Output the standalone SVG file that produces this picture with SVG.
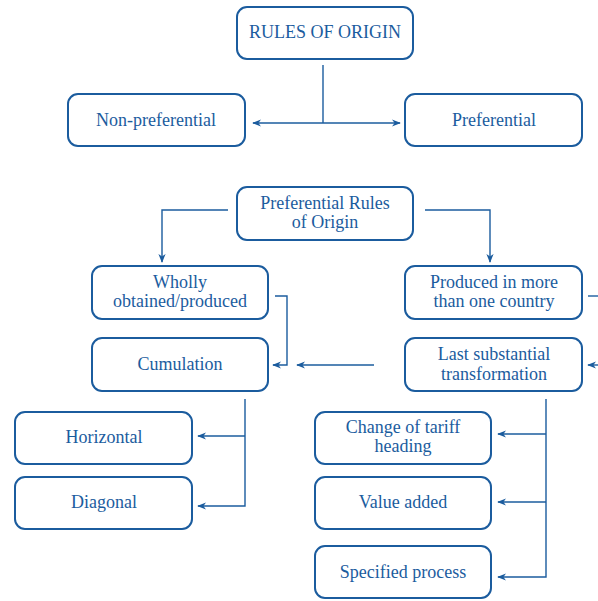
<svg xmlns="http://www.w3.org/2000/svg" width="598" height="601" viewBox="0 0 598 601">
<style>
.box{fill:#fff;stroke:#1b5c9e;stroke-width:2}
text{font-family:'Liberation Serif','DejaVu Serif',serif;font-size:18px;fill:#1b5c9e;text-anchor:middle}
.c{fill:none;stroke:#1b5c9e;stroke-width:1.4}
</style>
<defs>
<marker id="ah" viewBox="0 0 10 10" refX="9" refY="5" markerWidth="9" markerHeight="9" markerUnits="userSpaceOnUse" orient="auto-start-reverse">
<path d="M0,1 L10,5 L0,9 L3,5 Z" fill="#1b5c9e"/>
</marker>
</defs>
<rect width="598" height="601" fill="#fff"/>
<g id="connectors">
<path class="c" d="M323,65 V123"/>
<path class="c" d="M253,123 H400" marker-start="url(#ah)" marker-end="url(#ah)"/>
<path class="c" d="M228,210 H162 V262" marker-end="url(#ah)"/>
<path class="c" d="M425,210 H490 V262" marker-end="url(#ah)"/>
<path class="c" d="M275,296 H287 V365 H273" marker-end="url(#ah)"/>
<path class="c" d="M374,365 H297" marker-end="url(#ah)"/>
<path class="c" d="M588,296 H598"/>
<path class="c" d="M600,365 H588" marker-end="url(#ah)"/>
<path class="c" d="M245,399 V506 H198" marker-end="url(#ah)"/>
<path class="c" d="M245,436 H198" marker-end="url(#ah)"/>
<path class="c" d="M546,399 V577 H498" marker-end="url(#ah)"/>
<path class="c" d="M546,434 H498" marker-end="url(#ah)"/>
<path class="c" d="M546,502 H498" marker-end="url(#ah)"/>
</g>
<g id="rules-of-origin"><rect class="box" x="237" y="7" width="176" height="52" rx="10"/><text x="325" y="38">RULES OF ORIGIN</text></g>
<g id="non-preferential"><rect class="box" x="68" y="94" width="177" height="52" rx="10"/><text x="156" y="126">Non-preferential</text></g>
<g id="preferential"><rect class="box" x="405" y="94" width="177" height="52" rx="10"/><text x="494" y="126">Preferential</text></g>
<g id="preferential-rules"><rect class="box" x="237" y="187" width="176" height="53" rx="10"/><text x="325" y="209">Preferential Rules</text><text x="325" y="228">of Origin</text></g>
<g id="wholly"><rect class="box" x="92" y="266" width="176" height="53" rx="10"/><text x="180" y="288">Wholly</text><text x="180" y="307">obtained/produced</text></g>
<g id="produced"><rect class="box" x="405" y="266" width="177" height="53" rx="10"/><text x="494" y="288">Produced in more</text><text x="494" y="307">than one country</text></g>
<g id="cumulation"><rect class="box" x="92" y="338" width="176" height="53" rx="10"/><text x="180" y="370">Cumulation</text></g>
<g id="last-substantial"><rect class="box" x="405" y="338" width="177" height="53" rx="10"/><text x="494" y="360">Last substantial</text><text x="494" y="380">transformation</text></g>
<g id="horizontal"><rect class="box" x="15" y="412" width="177" height="52" rx="10"/><text x="104" y="443">Horizontal</text></g>
<g id="diagonal"><rect class="box" x="15" y="477" width="177" height="52" rx="10"/><text x="104" y="508">Diagonal</text></g>
<g id="change-tariff"><rect class="box" x="315" y="412" width="176" height="52" rx="10"/><text x="403" y="433">Change of tariff</text><text x="403" y="452">heading</text></g>
<g id="value-added"><rect class="box" x="315" y="477" width="176" height="52" rx="10"/><text x="403" y="508">Value added</text></g>
<g id="specified-process"><rect class="box" x="315" y="546" width="176" height="52" rx="10"/><text x="403" y="578">Specified process</text></g>
</svg>
